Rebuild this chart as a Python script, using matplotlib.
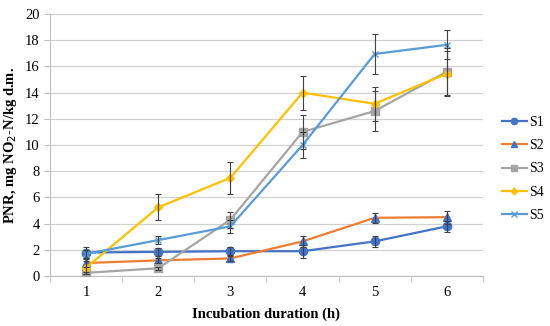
import matplotlib.pyplot as plt

plt.rcParams['font.family'] = ['Liberation Serif', 'DejaVu Serif']

hours = [1, 2, 3, 4, 5, 6]
s1 = [1.8, 1.85, 1.9, 1.9, 2.65, 3.8]
s1_err = [0.4, 0.3, 0.3, 0.5, 0.4, 0.4]
s2 = [1.0, 1.2, 1.35, 2.65, 4.45, 4.5]
s2_err = [0.3, 0.2, 0.2, 0.4, 0.4, 0.5]
s3 = [0.25, 0.6, 4.3, 11.0, 12.6, 15.6]
s3_err = [0.1, 0.1, 0.6, 1.3, 1.5, 1.8]
s4 = [0.65, 5.25, 7.5, 14.0, 13.15, 15.45]
s4_err = [0.5, 1.0, 1.2, 1.3, 1.3, 1.7]
s5 = [1.7, 2.75, 3.8, 10.0, 16.95, 17.65]
s5_err = [0.3, 0.3, 0.5, 1.0, 1.5, 1.1]

series = [
    ("S1", s1, s1_err, "#4472C4", "o", "#4472C4", 6),
    ("S2", s2, s2_err, "#ED7D31", "^", "#4472C4", 6),
    ("S3", s3, s3_err, "#A5A5A5", "s", "#A5A5A5", 6),
    ("S4", s4, s4_err, "#FFC000", "D", "#FFC000", 4.5),
    ("S5", s5, s5_err, "#5B9BD5", "x", "#5B9BD5", 5),
]

fig = plt.figure(figsize=(5.5, 3.26), dpi=100)
ax = fig.add_axes([0.091, 0.153, 0.787, 0.804])

for name, vals, errs, col, mk, mcol, ms in series:
    ax.plot(hours, vals, color=col, lw=1.6, marker=mk, markersize=ms,
            markerfacecolor=mcol, markeredgecolor=mcol, label=name, zorder=3)
    ax.errorbar(hours, vals, yerr=errs, fmt="none", ecolor="#404040",
                elinewidth=0.8, capsize=2.5, capthick=0.8, zorder=4)

ax.set_xlim(0.5, 6.5)
ax.set_ylim(0, 20)
ax.set_yticks(range(0, 21, 2))
ax.set_xticks(hours)
ax.set_xticks([0.5 + i for i in range(7)], minor=True)
ax.tick_params(axis="x", which="major", length=0, labelsize=10.5, pad=7)
ax.tick_params(axis="x", which="minor", length=4, color="#BFBFBF")
ax.tick_params(axis="y", length=4, color="#BFBFBF", labelsize=10.5)
ax.yaxis.grid(True, color="#D0D0D0", lw=0.9)
ax.set_axisbelow(True)
for s in ["top", "right"]:
    ax.spines[s].set_visible(False)
ax.spines["left"].set_color("#BFBFBF")
ax.spines["bottom"].set_color("#BFBFBF")

ax.set_xlabel("Incubation duration (h)", fontweight="bold", fontsize=10.5, labelpad=6)
ax.set_ylabel("PNR, mg NO$_2$-N/kg d.m.", fontweight="bold", fontsize=10.5)

fig.legend(loc="center left", bbox_to_anchor=(0.912, 0.482), frameon=False,
           fontsize=10, handlelength=1.8, labelspacing=0.75, handletextpad=0.15,
           borderpad=0, borderaxespad=0, markerscale=0.75)

fig.savefig("out.png", dpi=100)
